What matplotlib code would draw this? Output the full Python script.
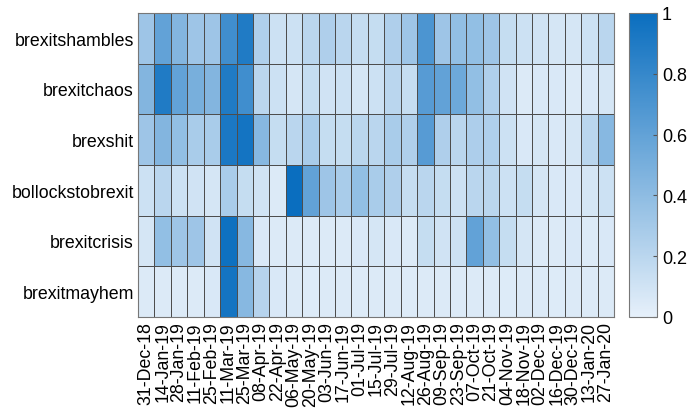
import numpy as np
import matplotlib
matplotlib.use("Agg")
import matplotlib.pyplot as plt
from matplotlib.colors import LinearSegmentedColormap

plt.rcParams['font.family'] = ['Liberation Sans', 'DejaVu Sans']

hashtags = ['brexitshambles', 'brexitchaos', 'brexshit',
            'bollockstobrexit', 'brexitcrisis', 'brexitmayhem']

weeks = ['31-Dec-18', '14-Jan-19', '28-Jan-19', '11-Feb-19', '25-Feb-19',
         '11-Mar-19', '25-Mar-19', '08-Apr-19', '22-Apr-19', '06-May-19',
         '20-May-19', '03-Jun-19', '17-Jun-19', '01-Jul-19', '15-Jul-19',
         '29-Jul-19', '12-Aug-19', '26-Aug-19', '09-Sep-19', '23-Sep-19',
         '07-Oct-19', '21-Oct-19', '04-Nov-19', '18-Nov-19', '02-Dec-19',
         '16-Dec-19', '30-Dec-19', '13-Jan-20', '27-Jan-20']

brexitshambles = [0.33, 0.60, 0.45, 0.33, 0.33, 0.75, 0.90, 0.25, 0.12, 0.12,
                  0.20, 0.25, 0.20, 0.15, 0.15, 0.25, 0.33, 0.70, 0.33, 0.38,
                  0.38, 0.33, 0.15, 0.12, 0.10, 0.08, 0.08, 0.12, 0.20]
brexitchaos = [0.45, 0.90, 0.60, 0.50, 0.45, 0.90, 0.75, 0.20, 0.12, 0.08,
               0.15, 0.10, 0.12, 0.08, 0.12, 0.20, 0.15, 0.65, 0.60, 0.55,
               0.38, 0.25, 0.10, 0.05, 0.06, 0.06, 0.05, 0.06, 0.08]
brexshit = [0.33, 0.45, 0.38, 0.28, 0.28, 0.92, 0.95, 0.43, 0.15, 0.20,
            0.28, 0.15, 0.15, 0.20, 0.20, 0.28, 0.25, 0.65, 0.25, 0.20,
            0.26, 0.25, 0.12, 0.06, 0.08, 0.06, 0.08, 0.20, 0.43]
bollockstobrexit = [0.12, 0.20, 0.12, 0.10, 0.08, 0.28, 0.15, 0.10, 0.05, 1.00,
                    0.60, 0.33, 0.28, 0.38, 0.28, 0.25, 0.15, 0.20, 0.15, 0.12,
                    0.20, 0.20, 0.12, 0.15, 0.08, 0.06, 0.06, 0.08, 0.12]
brexitcrisis = [0.08, 0.38, 0.33, 0.33, 0.10, 0.98, 0.43, 0.06, 0.05, 0.05,
                0.05, 0.05, 0.05, 0.06, 0.08, 0.06, 0.05, 0.15, 0.10, 0.12,
                0.60, 0.38, 0.15, 0.08, 0.05, 0.05, 0.06, 0.05, 0.06]
brexitmayhem = [0.05, 0.05, 0.05, 0.05, 0.06, 0.95, 0.43, 0.22, 0.06, 0.05,
                0.04, 0.05, 0.05, 0.04, 0.05, 0.05, 0.04, 0.05, 0.05, 0.05,
                0.05, 0.05, 0.04, 0.05, 0.05, 0.04, 0.05, 0.05, 0.05]

data = np.array([brexitshambles, brexitchaos, brexshit,
                 bollockstobrexit, brexitcrisis, brexitmayhem])

cmap = LinearSegmentedColormap.from_list('blues', ['#e6f0fa', '#0a6ebf'])

fig = plt.figure(figsize=(6.9, 4.1), dpi=100)
ax = fig.add_axes([0.2, 0.2244, 0.69, 0.7415])
cax = fig.add_axes([0.9116, 0.2244, 0.0406, 0.7415])

mesh = ax.pcolormesh(data, cmap=cmap, vmin=0, vmax=1,
                     edgecolors='#4d4d4d', linewidth=0.6)
ax.set_xlim(0, len(weeks))
ax.set_ylim(len(hashtags), 0)
ax.set_xticks(np.arange(len(weeks)) + 0.5)
ax.set_xticklabels(weeks, rotation=90, fontsize=12.8)
ax.set_yticks(np.arange(len(hashtags)) + 0.5)
ax.set_yticklabels(hashtags, fontsize=12.8)
ax.tick_params(length=0, pad=3)
for s in ax.spines.values():
    s.set_color('#777777')
    s.set_linewidth(0.8)

cb = fig.colorbar(mesh, cax=cax)
cb.set_ticks([0, 0.2, 0.4, 0.6, 0.8, 1])
cb.set_ticklabels(['0', '0.2', '0.4', '0.6', '0.8', '1'])
cb.ax.tick_params(labelsize=13, direction='in', length=3, color='#555555')
cb.outline.set_edgecolor('#777777')
cb.outline.set_linewidth(0.8)

fig.savefig('out.png', dpi=100)
